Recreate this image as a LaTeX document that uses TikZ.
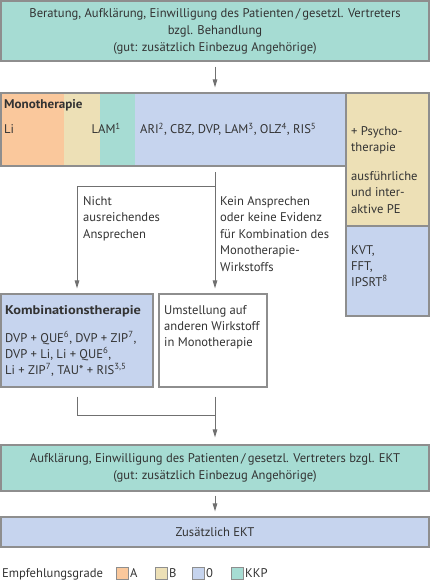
\documentclass[tikz,border=0pt]{standalone}
\usepackage{fontspec}
\usepackage{graphicx}
\setmainfont{PT Sans}
\usetikzlibrary{arrows.meta}
\definecolor{cteal}{HTML}{A6DCD3}
\definecolor{corange}{HTML}{FAC89C}
\definecolor{cbeige}{HTML}{EDE0B6}
\definecolor{cblue}{HTML}{C6D4EE}
\definecolor{cborder}{HTML}{8E8E8E}
\definecolor{carrow}{HTML}{707070}
\definecolor{ctext}{HTML}{333333}
\tikzset{
  box/.style={draw=cborder, line width=1.1pt, inner sep=0pt, rectangle},
  txt/.style={inner sep=0pt, text=ctext, font=\fontsize{12.6}{16.5}\selectfont},
  btxt/.style={txt, font=\fontsize{12.6}{16.5}\selectfont\bfseries},
  conn/.style={draw=carrow, line width=1pt},
  arr/.style={conn, -{Triangle[length=8pt,width=4.5pt]}},
}
\begin{document}
\begin{tikzpicture}[x=1pt,y=-1pt]
\useasboundingbox (0,0) rectangle (431,580);
% top box
\node[box, fill=cteal, minimum width=428pt, minimum height=60pt] (top) at (215,31) {};
\node[txt, align=center, font=\fontsize{12.6}{17}\selectfont] (toptxt) at (215,31.5) {Beratung, Aufklärung, Einwilligung des Patienten\,/\,gesetzl. Vertreters\\bzgl. Behandlung\\(gut: zusätzlich Einbezug Angehörige)};
% monotherapy
\fill[corange] (1,93) rectangle (64,166);
\fill[cbeige] (64,93) rectangle (100,166);
\fill[cteal] (100,93) rectangle (135,166);
\fill[cblue] (135,93) rectangle (346,166);
\node[box, minimum width=345pt, minimum height=73pt] (mono) at (173.5,129.5) {};
\node[btxt, anchor=base west] (monot) at (4,109) {\scalebox{1.04}[1]{Monotherapie}};
\node[txt, anchor=base west] (li) at (4,134) {Li};
\node[txt, anchor=base east] (lam) at (121,134) {LAM\textsuperscript{1}};
\node[txt, anchor=base west] (ari) at (140,134) {ARI\textsuperscript{2}, CBZ, DVP, LAM\textsuperscript{3}, OLZ\textsuperscript{4}, RIS\textsuperscript{5}};
% psycho column
\node[box, fill=cbeige, minimum width=83pt, minimum height=133pt] (psy) at (387.5,159.5) {};
\node[box, fill=cblue, minimum width=83pt, minimum height=90pt] (psyb) at (387.5,271) {};
\node[txt, anchor=base west, align=left] (psyt) at (351,151.5) {+ Psycho-\\therapie};
\node[txt, anchor=base west, align=left] (pe) at (351,213) {ausführliche\\und inter-\\aktive PE};
\node[txt, anchor=base west, align=left, font=\fontsize{12.6}{16}\selectfont] (kvt) at (351,286) {KVT,\\FFT,\\IPSRT\textsuperscript{8}};
% lower boxes
\node[box, fill=cblue, minimum width=152pt, minimum height=93pt] (komb) at (77,340.5) {};
\node[box, fill=white, minimum width=108pt, minimum height=93pt] (umst) at (213,340.5) {};
\node[btxt, anchor=base west] (kombt) at (5,314) {\scalebox{1.14}[1]{Kombinationstherapie}};
\node[txt, anchor=base west, align=left, font=\fontsize{12.6}{16}\selectfont] (kombl) at (5,374) {DVP + QUE\textsuperscript{6}, DVP + ZIP\textsuperscript{7},\\DVP + Li, Li + QUE\textsuperscript{6},\\Li + ZIP\textsuperscript{7}, TAU* + RIS\textsuperscript{3,5}};
\node[txt, anchor=base west, align=left, font=\fontsize{12.6}{16}\selectfont] (umstt) at (164,346) {Umstellung auf\\anderen Wirkstoff\\in Monotherapie};
% branch labels
\node[txt, anchor=base west, align=left] (lab1) at (83,238) {Nicht\\ausreichendes\\Ansprechen};
\node[txt, anchor=base west, align=left] (lab2) at (220,271) {Kein Ansprechen\\oder keine Evidenz\\für Kombination des\\Monotherapie-\\Wirkstoffs};
% EKT boxes
\node[box, fill=cteal, minimum width=428pt, minimum height=46pt] (ekti) at (215,468) {};
\node[txt, align=center] (ektit) at (215,468) {Aufklärung, Einwilligung des Patienten\,/\,gesetzl. Vertreters bzgl. EKT\\(gut: zusätzlich Einbezug Angehörige)};
\node[box, fill=cblue, minimum width=428pt, minimum height=30pt] (ekt) at (215,532) {};
\node[txt] (ektt) at (215,532) {Zusätzlich EKT};
% connectors
\coordinate (c0) at (215,0);
\draw[arr] (c0 |- top.south) ++(0,5) -- ([yshift=5pt]c0 |- mono.north);
\coordinate (b1) at (215,172);
\coordinate (b2) at (215,186);
\draw[arr] (b1) -- ([yshift=5pt]b1 |- umst.north);
\draw[arr] (b2) -| ([yshift=5pt]komb.north);
\coordinate (j) at (215,415);
\draw[conn] ([yshift=-9pt]komb.south) |- (j);
\draw[arr] ([yshift=-9pt]j |- umst.south) -- ([yshift=7pt]j |- ekti.north);
\draw[arr] ([yshift=-4pt]j |- ekti.south) -- ([yshift=5pt]j |- ekt.north);
% legend
\node[txt, anchor=base west] (leg) at (2,577) {Empfehlungsgrade};
\node[box, line width=0.8pt, fill=corange, minimum size=12pt] (la) at (122.5,573) {};
\node[txt, anchor=base west] (lat) at (130,577) {A};
\node[box, line width=0.8pt, fill=cbeige, minimum size=12pt] (lb) at (161.5,573) {};
\node[txt, anchor=base west] (lbt) at (169,577) {B};
\node[box, line width=0.8pt, fill=cblue, minimum size=12pt] (lc) at (198.5,573) {};
\node[txt, anchor=base west] (lct) at (206,577) {0};
\node[box, line width=0.8pt, fill=cteal, minimum size=12pt] (ld) at (237.5,573) {};
\node[txt, anchor=base west] (ldt) at (245,577) {KKP};
\end{tikzpicture}
\end{document}
